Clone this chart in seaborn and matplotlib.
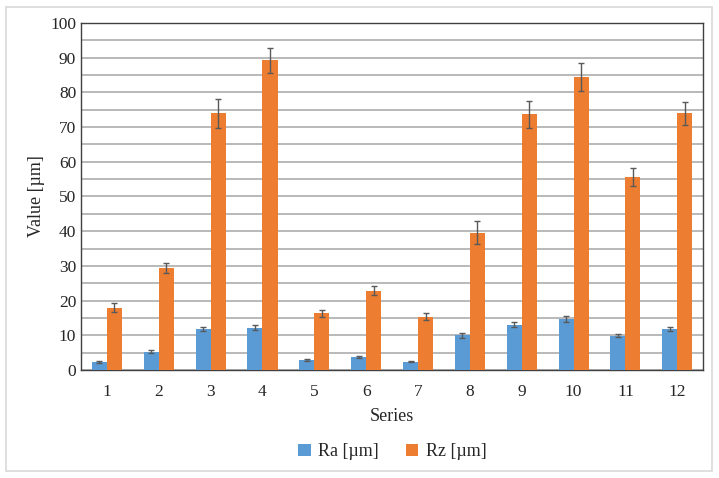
import matplotlib
matplotlib.use("Agg")
import matplotlib.pyplot as plt
from matplotlib.patches import Rectangle
from matplotlib.ticker import MultipleLocator
import numpy as np
import pandas as pd
import seaborn as sns

# ── data ───────────────────────────────────────────────────────────────
series = ["1", "2", "3", "4", "5", "6", "7", "8", "9", "10", "11", "12"]
ra = [2.3, 5.3, 11.8, 12.2, 2.8, 3.7, 2.4, 10.0, 13.1, 14.7, 9.9, 11.8]
ra_err = [0.3, 0.5, 0.7, 0.7, 0.3, 0.3, 0.2, 0.7, 0.8, 0.8, 0.5, 0.7]
rz = [18.0, 29.4, 74.0, 89.3, 16.4, 22.9, 15.4, 39.6, 73.7, 84.4, 55.7, 74.0]
rz_err = [1.3, 1.5, 4.2, 3.6, 1.0, 1.3, 1.1, 3.2, 3.9, 4.0, 2.6, 3.3]
labels = ["Ra [µm]", "Rz [µm]"]
colors = ["#5B9BD5", "#ED7D31"]

df = pd.DataFrame({
    "Series": series * 2,
    "Value": ra + rz,
    "Err": ra_err + rz_err,
    "Param": [labels[0]] * len(series) + [labels[1]] * len(series),
})

sns.set_style("white")
plt.rcParams["font.family"] = ["Liberation Serif", "DejaVu Serif"]

fig = plt.figure(figsize=(7.19, 4.78), dpi=100)
ax = fig.add_axes([0.1127, 0.226, 0.8653, 0.726])

sns.barplot(data=df, x="Series", y="Value", hue="Param", order=series,
            hue_order=labels, palette=colors, width=0.58, errorbar=None,
            saturation=1, linewidth=0, ax=ax, zorder=3)

# error bars at bar centres
for cont, lab in zip(ax.containers, labels):
    sub = df[df["Param"] == lab]
    xs = [p.get_x() + p.get_width() / 2 for p in cont.patches]
    ax.errorbar(xs, sub["Value"], yerr=sub["Err"], fmt="none",
                ecolor="#595959", elinewidth=1, capsize=2.5, capthick=1, zorder=4)

ax.set_ylim(0, 100)
ax.set_xlim(-0.5, 11.5)
ax.yaxis.set_major_locator(MultipleLocator(10))
ax.yaxis.set_minor_locator(MultipleLocator(5))
ax.grid(axis="y", which="both", color="#A6A6A6", linewidth=1.1, zorder=0)
ax.set_axisbelow(True)
for s in ax.spines.values():
    s.set_color("#404040")
    s.set_linewidth(1.0)
ax.tick_params(axis="both", labelsize=12.5, length=0, colors="#262626")
ax.tick_params(axis="x", pad=10)
ax.set_xlabel("Series", fontsize=13, labelpad=6)
ax.set_ylabel("Value [µm]", fontsize=13)

ax.legend(loc="upper center", bbox_to_anchor=(0.5, -0.165), ncol=2, frameon=False,
          fontsize=13, handlelength=0.7, handleheight=0.7, handletextpad=0.4,
          columnspacing=1.5)

fig.patches.append(Rectangle((0.008, 0.015), 0.982, 0.97, transform=fig.transFigure,
                             fill=False, edgecolor="#D9D9D9", linewidth=1.2))

fig.savefig("out.png", dpi=100)
